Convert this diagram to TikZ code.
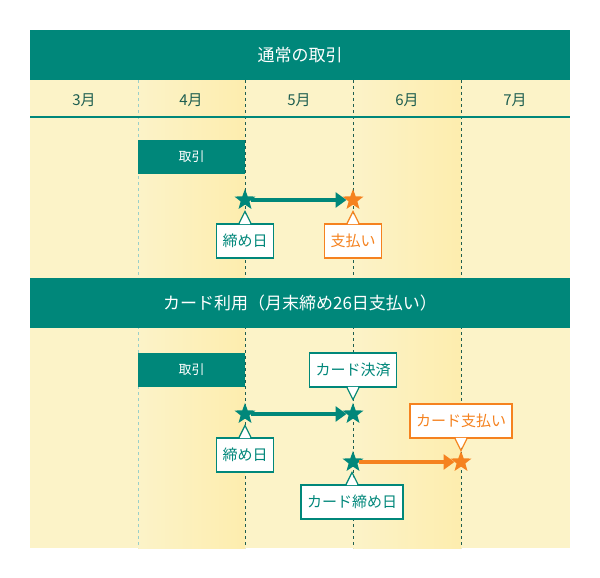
\documentclass[tikz,border=0pt]{standalone}
\usepackage{fontspec}
\setmainfont{Noto Sans CJK JP}
\usetikzlibrary{shapes.geometric,arrows.meta,calc}
\definecolor{teal}{HTML}{00877A}
\definecolor{dteal}{HTML}{1E5E50}
\definecolor{bgy}{HTML}{FCF3C8}
\definecolor{bgd}{HTML}{FDEDAE}
\definecolor{org}{HTML}{F5821F}
\begin{document}
\begin{tikzpicture}[x=1pt,y=-1pt,
 bar/.style={fill=teal,text=white,font=\fontsize{17}{17}\selectfont},
 month/.style={text=dteal,font=\fontsize{15}{15}\selectfont},
 tbox/.style={fill=teal,text=white,font=\fontsize{13}{13}\selectfont,minimum width=107pt,minimum height=34pt,inner sep=0},
 callg/.style={draw=teal,line width=1.2pt,fill=white,text=teal,font=\fontsize{15}{15}\selectfont,minimum height=34pt,inner sep=6pt},
 callo/.style={callg,draw=org,text=org},
 starg/.style={star,star points=5,star point ratio=2.4,fill=teal,minimum size=22pt,inner sep=0},
 staro/.style={starg,fill=org},
 arr/.style={line width=4pt,-{Triangle[length=11pt,width=15pt]}},
 vline/.style={dashed,dash pattern=on 3pt off 3pt,line width=0.8pt,draw=dteal}]
\useasboundingbox (0,0) rectangle (600,578);
\fill[white] (0,0) rectangle (600,578);
% backgrounds
\fill[bgy] (30,80) rectangle (570,548);
\shade[left color=bgy,right color=bgd] (138,80) rectangle (245,548);
\shade[left color=bgy,right color=bgd] (353,80) rectangle (461,548);
% dashed lines
\draw[vline,draw=teal!40] (138,80) -- (138,548);
\foreach \x in {245,353,461} \draw[vline] (\x,80) -- (\x,548);
% bars
\node[bar,minimum width=540pt,minimum height=50pt,inner sep=0] (h1) at (300,55) {通常の取引};
\node[bar,minimum width=540pt,minimum height=50pt,inner sep=0] (h2) at (300,303) {カード利用（月末締め26日支払い）};
\draw[teal,line width=1.5pt] (30,117) -- (570,117);
\foreach \m/\x in {3/84,4/191,5/299,6/407,7/515}
  \node[month] (m\m) at (\x,100) {\m 月};
% section 1
\node[tbox] (t1) at (191.5,157) {取引};
\node[starg] (s1) at (245,200) {};
\node[staro] (s2) at (353,200) {};
\draw[teal,arr] (s1.east) -- (s2.west);
\node[callg] (c1) at (245,241) {締め日};
\node[callo] (c2) at (353,241) {支払い};
% section 2
\node[tbox] (t2) at (191.5,370) {取引};
\node[starg] (s3) at (245,414) {};
\node[starg] (s4) at (353,414) {};
\draw[teal,arr] (s3.east) -- (s4.west);
\node[starg] (s5) at (353,462) {};
\node[staro] (s6) at (461,462) {};
\draw[org,arr] (s5.east) -- (s6.west);
\node[callg] (c3) at (353,370) {カード決済};
\node[callg] (c4) at (245,455) {締め日};
\node[callg] (c5) at (352,502) {カード締め日};
\node[callo] (c6) at (461,421) {カード支払い};
% pointers up
\foreach \n/\c in {c1/teal,c2/org,c4/teal,c5/teal}{
  \fill[white] ($(\n.north)+(-5.4,0.8)$) -- ++(5.4,-11) -- ++(5.4,11) -- cycle;
  \draw[\c,line width=1.2pt] ($(\n.north)+(-6,0)$) -- ++(6,-12) -- ++(6,12);
}
% pointers down
\foreach \n/\c in {c3/teal,c6/org}{
  \fill[white] ($(\n.south)+(-5.4,-0.8)$) -- ++(5.4,11) -- ++(5.4,-11) -- cycle;
  \draw[\c,line width=1.2pt] ($(\n.south)+(-6,0)$) -- ++(6,12) -- ++(6,-12);
}
\end{tikzpicture}
\end{document}
